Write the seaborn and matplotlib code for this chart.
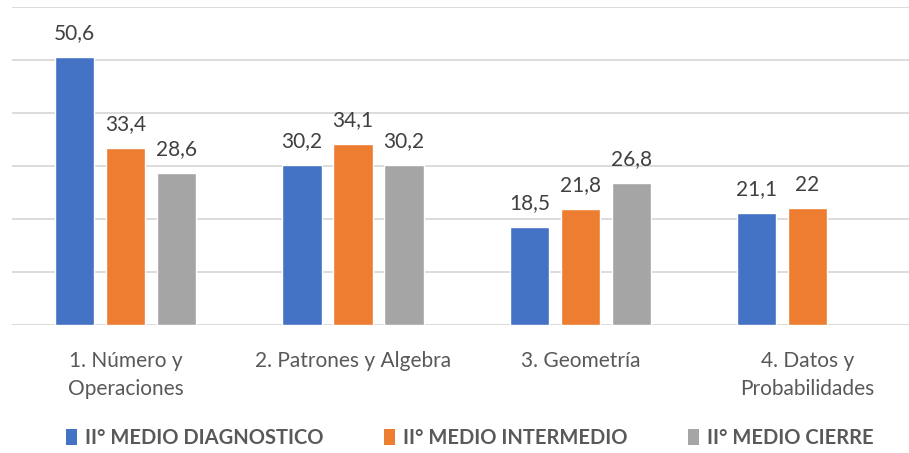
import numpy as np
import pandas as pd
import seaborn as sns
import matplotlib
matplotlib.use("Agg")
import matplotlib.pyplot as plt
from matplotlib.patches import Patch

categories = ["1. Número y\nOperaciones", "2. Patrones y Algebra", "3. Geometría", "4. Datos y\nProbabilidades"]
series_names = ["II° MEDIO DIAGNOSTICO", "II° MEDIO INTERMEDIO", "II° MEDIO CIERRE"]
diagnostico = [50.6, 30.2, 18.5, 21.1]
intermedio = [33.4, 34.1, 21.8, 22.0]
cierre = [28.6, 30.2, 26.8, np.nan]
colors = ["#4472C4", "#ED7D31", "#A5A5A5"]

rows = []
for name, vals in zip(series_names, [diagnostico, intermedio, cierre]):
    for c, v in zip(categories, vals):
        rows.append({"cat": c, "serie": name, "valor": v})
df = pd.DataFrame(rows)

sns.set_theme(style="white")
plt.rcParams["font.family"] = ["Lato", "DejaVu Sans"]

fig = plt.figure(figsize=(9.09, 4.53), dpi=100)
ax = fig.add_axes([12 / 909, (453 - 325) / 453, 1 - 12 / 909, (325 - 7) / 453])

sns.barplot(data=df, x="cat", y="valor", hue="serie", order=categories,
            hue_order=series_names, palette=colors, width=0.6725, gap=0.225,
            saturation=1, ax=ax, legend=False, errorbar=None)

ax.set_ylim(0, 60)
ax.set_xlim(-0.5, 3.446)
ax.set_yticks(np.arange(0, 61, 10))
ax.yaxis.grid(True, color="#D9D9D9", linewidth=1.3)
ax.set_axisbelow(True)
ax.tick_params(axis="y", left=False, labelleft=False)
ax.tick_params(axis="x", bottom=False, pad=13, labelsize=15, labelcolor="#595959")
for lab in ax.get_xticklabels():
    lab.set_linespacing(1.45)
for s in ax.spines.values():
    s.set_visible(False)
ax.set_xlabel("")
ax.set_ylabel("")

for cont in ax.containers:
    labels = []
    for b in cont:
        h = b.get_height()
        labels.append("" if np.isnan(h) else f"{h:g}".replace(".", ","))
    ax.bar_label(cont, labels=labels, padding=10, fontsize=15, color="#404040")

handles = [Patch(facecolor=c, edgecolor="none") for c in colors]
fig.legend(handles, series_names, loc="center", bbox_to_anchor=(470 / 909, 15 / 453),
           ncol=3, frameon=False, handlelength=0.55, handleheight=0.85, handletextpad=0.4,
           columnspacing=3.0, prop={"weight": "bold", "size": 14.5}, labelcolor="#595959")

fig.savefig("out.png", dpi=100)
